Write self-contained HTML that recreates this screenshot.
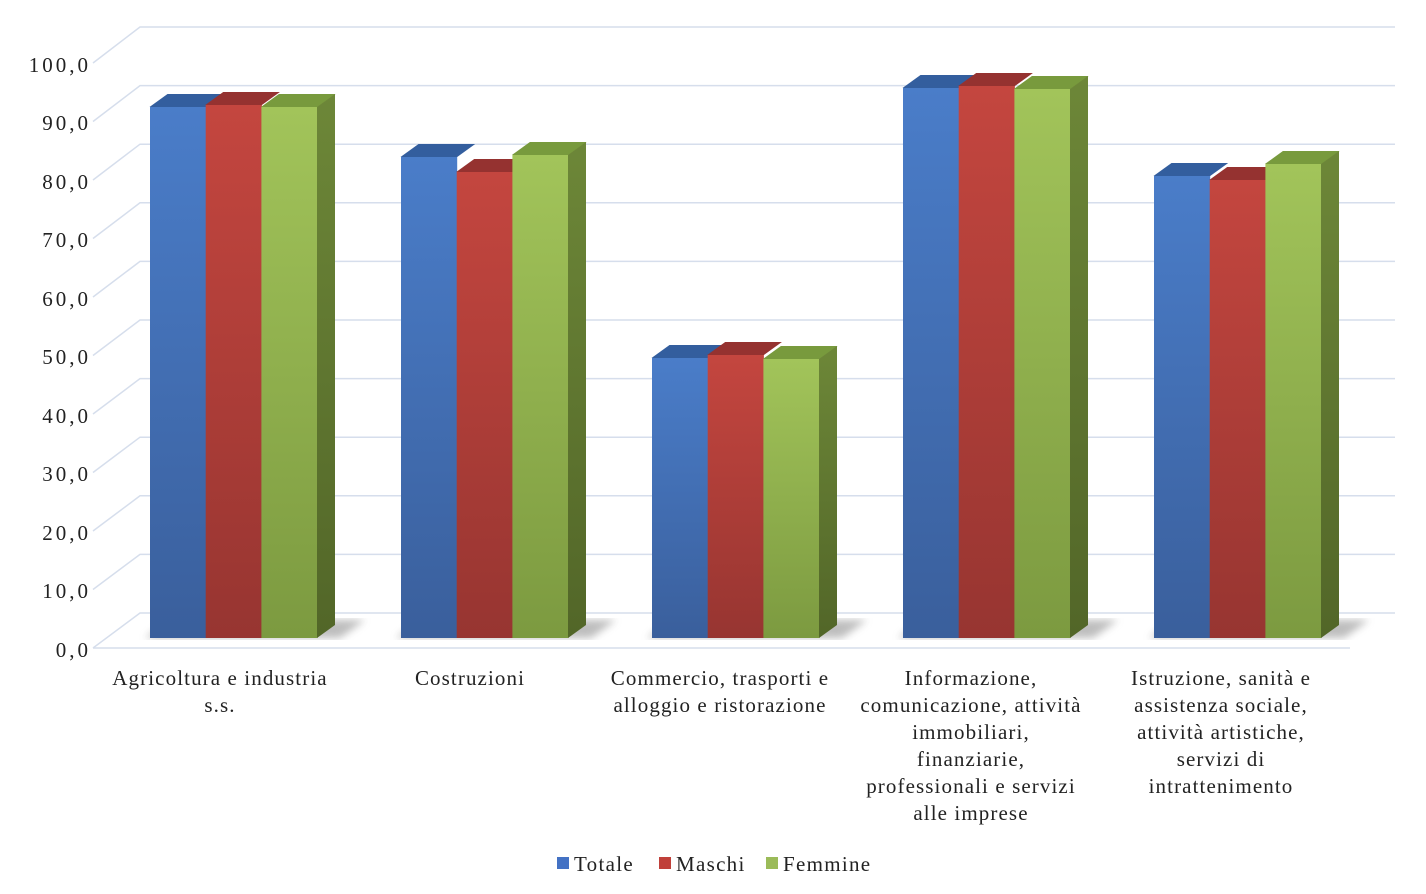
<!DOCTYPE html>
<html><head><meta charset="utf-8"><style>
html,body{margin:0;padding:0;background:#fff;}
svg{display:block;font-family:"Liberation Serif",serif;}
</style></head><body>
<svg id="c" width="1426" height="894" xmlns="http://www.w3.org/2000/svg">
<defs>
<linearGradient id="gb" x1="0" y1="0" x2="0" y2="1"><stop offset="0" stop-color="#4a7dc9"/><stop offset="1" stop-color="#3a5f9c"/></linearGradient>
<linearGradient id="gr" x1="0" y1="0" x2="0" y2="1"><stop offset="0" stop-color="#c4463f"/><stop offset="1" stop-color="#973531"/></linearGradient>
<linearGradient id="gg" x1="0" y1="0" x2="0" y2="1"><stop offset="0" stop-color="#a2c45a"/><stop offset="1" stop-color="#7c9a40"/></linearGradient>
<linearGradient id="gs" x1="0" y1="0" x2="0" y2="1"><stop offset="0" stop-color="#6d8738"/><stop offset="1" stop-color="#526628"/></linearGradient>
<filter id="bl"><feGaussianBlur stdDeviation="4"/></filter>
</defs>
<g id="grid" stroke="#d6deec" stroke-width="1.5" fill="none"></g>
<g id="bars"></g>
<g font-size="21" fill="#222" text-anchor="end" letter-spacing="3">
<text x="91" y="72">100,0</text><text x="91" y="130">90,0</text><text x="91" y="189">80,0</text><text x="91" y="247">70,0</text><text x="91" y="306">60,0</text><text x="91" y="364">50,0</text><text x="91" y="423">40,0</text><text x="91" y="481">30,0</text><text x="91" y="540">20,0</text><text x="91" y="598">10,0</text><text x="91" y="657">0,0</text>
</g>
<g font-size="21" fill="#222" text-anchor="middle" letter-spacing="1.1">
<text x="220" y="685">Agricoltura e industria</text><text x="220" y="712">s.s.</text>
<text x="470" y="685">Costruzioni</text>
<text x="720" y="685">Commercio, trasporti e</text><text x="720" y="712">alloggio e ristorazione</text>
<text x="971" y="685">Informazione,</text><text x="971" y="712">comunicazione, attività</text><text x="971" y="739">immobiliari,</text><text x="971" y="766">finanziarie,</text><text x="971" y="793">professionali e servizi</text><text x="971" y="820">alle imprese</text>
<text x="1221" y="685">Istruzione, sanità e</text><text x="1221" y="712">assistenza sociale,</text><text x="1221" y="739">attività artistiche,</text><text x="1221" y="766">servizi di</text><text x="1221" y="793">intrattenimento</text>
</g>
<g font-size="21" fill="#222" letter-spacing="1.3">
<rect x="557" y="857" width="12" height="12" fill="#4472c4"/><text x="574" y="871">Totale</text>
<rect x="659" y="857" width="12" height="12" fill="#c0403a"/><text x="676" y="871">Maschi</text>
<rect x="766" y="857" width="12" height="12" fill="#9bbb59"/><text x="783" y="871">Femmine</text>
</g>
</svg>
<script>
var ns="http://www.w3.org/2000/svg",g=document.getElementById('grid'),b=document.getElementById('bars');
function el(p,t,a){var e=document.createElementNS(ns,t);for(var k in a)e.setAttribute(k,a[k]);p.appendChild(e);return e;}
for(var i=0;i<=10;i++){var fy=648-i*58.5,by=613-i*58.6;
 el(g,'polyline',{points:"93,"+fy+" 140,"+by+" 1395,"+by});}
el(g,'line',{x1:93,y1:648,x2:1350,y2:648});
var tops=[[107,105,107],[157,172,155],[358,355,359],[88,86,89],[176,180,164]];
var fr=['url(#gb)','url(#gr)','url(#gg)'],tp=['#335e9e','#953230','#789a3d'];
for(var j=0;j<5;j++){var x0=150+j*251;
 el(b,'polygon',{points:(x0-5)+",638 "+(x0+190)+",638 "+(x0+215)+",620 "+(x0+20)+",620",fill:'#888',opacity:.55,filter:'url(#bl)'});
 for(var s=0;s<3;s++){var x=x0+s*55.7,w=55.7,y=tops[j][s];
  el(b,'polygon',{points:(x-0.5)+","+y+" "+(x+w+0.5)+","+y+" "+(x+w+18.5)+","+(y-13)+" "+(x+17.5)+","+(y-13),fill:tp[s]});
  el(b,'rect',{x:x,y:y,width:w+0.5,height:638-y,fill:fr[s]});}
 var xr=x0+167;var y2=tops[j][2];
 el(b,'polygon',{points:xr+","+y2+" "+(xr+18)+","+(y2-13)+" "+(xr+18)+",625 "+xr+",638",fill:'url(#gs)'});
}
</script>
</body></html>
